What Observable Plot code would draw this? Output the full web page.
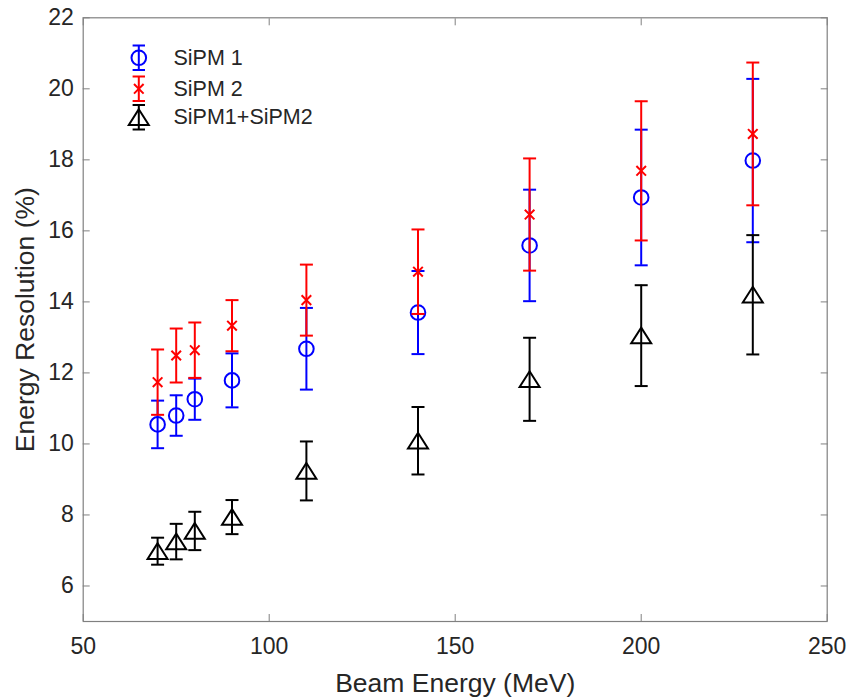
<!DOCTYPE html>
<html>
<head>
<meta charset="utf-8">
<script src="https://cdn.jsdelivr.net/npm/d3@7"></script>
<script src="https://cdn.jsdelivr.net/npm/@observablehq/plot@0.6"></script>
<style>
  body { margin: 0; background: #fff; }
  #chart svg { display: block; }
</style>
</head>
<body>
<div id="chart"></div>
<script>
// ---- Data ----
const energies = [70, 75, 80, 90, 110, 140, 170, 200, 230];

const sipm1Values = [10.55, 10.80, 11.26, 11.79, 12.68, 13.70, 15.59, 16.94, 17.98];
const sipm1Errors = [0.67, 0.57, 0.58, 0.76, 1.15, 1.17, 1.57, 1.91, 2.30];

const sipm2Values = [11.74, 12.49, 12.64, 13.33, 14.05, 14.85, 16.46, 17.69, 18.73];
const sipm2Errors = [0.92, 0.76, 0.78, 0.72, 1.00, 1.19, 1.58, 1.96, 2.01];

const sumValues = [6.98, 7.25, 7.55, 7.94, 9.24, 10.09, 11.82, 13.05, 14.20];
const sumErrors = [0.38, 0.50, 0.54, 0.48, 0.83, 0.95, 1.17, 1.42, 1.68];

const seriesNames = ["SiPM 1", "SiPM 2", "SiPM1+SiPM2"];
const seriesColors = ["#0000ff", "#ff0000", "#000000"];

const xTicks = [50, 100, 150, 200, 250];
const yTicks = [6, 8, 10, 12, 14, 16, 18, 20, 22];

const xLabel = "Beam Energy (MeV)";
const yLabel = "Energy Resolution (%)";

// ---- Build rows ----
const rows = (vals, errs) => energies.map((e, i) => ({
  energy: e, value: vals[i], lo: vals[i] - errs[i], hi: vals[i] + errs[i]
}));
const series = [
  {name: seriesNames[0], color: seriesColors[0], data: rows(sipm1Values, sipm1Errors), marker: "circle"},
  {name: seriesNames[1], color: seriesColors[1], data: rows(sipm2Values, sipm2Errors), marker: "cross"},
  {name: seriesNames[2], color: seriesColors[2], data: rows(sumValues, sumErrors), marker: "triangle"}
];

// ---- Custom symbols ----
const capSymbol = {draw(ctx) { ctx.moveTo(-6.5, 0); ctx.lineTo(6.5, 0); }};
const crossSymbol = {draw(ctx) {
  ctx.moveTo(-4.8, -4.8); ctx.lineTo(4.8, 4.8);
  ctx.moveTo(-4.8, 4.8); ctx.lineTo(4.8, -4.8);
}};
const triSymbol = {draw(ctx) {
  ctx.moveTo(0, -8); ctx.lineTo(10, 7.7); ctx.lineTo(-10, 7.7); ctx.closePath();
}};
const circleSymbol = {draw(ctx) { ctx.moveTo(7.3, 0); ctx.arc(0, 0, 7.3, 0, 2 * Math.PI); }};
const legendBarSymbol = {draw(ctx) {
  ctx.moveTo(0, -12.2); ctx.lineTo(0, 12.2);
  ctx.moveTo(-6.2, -12.2); ctx.lineTo(6.2, -12.2);
  ctx.moveTo(-6.2, 12.2); ctx.lineTo(6.2, 12.2);
}};
const markerSymbol = {circle: circleSymbol, cross: crossSymbol, triangle: triSymbol};

// ---- Marks ----
const axisColor = "#808080";
const textColor = "#262626";
const marks = [];

for (const s of series) {
  marks.push(
    Plot.ruleX(s.data, {x: "energy", y1: "lo", y2: "hi", stroke: s.color, strokeWidth: 2}),
    Plot.dot(s.data, {x: "energy", y: "hi", symbol: capSymbol, stroke: s.color, fill: "none", strokeWidth: 2}),
    Plot.dot(s.data, {x: "energy", y: "lo", symbol: capSymbol, stroke: s.color, fill: "none", strokeWidth: 2}),
    Plot.dot(s.data, {x: "energy", y: "value", symbol: markerSymbol[s.marker], stroke: s.color, fill: "none", strokeWidth: 2})
  );
}

// Legend
const legendDy = [40, 71, 99.4];
series.forEach((s, i) => {
  marks.push(
    Plot.dot([0], {frameAnchor: "top-left", dx: 55.6, dy: legendDy[i], symbol: legendBarSymbol, stroke: s.color, fill: "none", strokeWidth: 2}),
    Plot.dot([0], {frameAnchor: "top-left", dx: 55.6, dy: legendDy[i], symbol: markerSymbol[s.marker], stroke: s.color, fill: "none", strokeWidth: 2}),
    Plot.text([s.name], {frameAnchor: "top-left", dx: 90.3, dy: legendDy[i], text: d => d, textAnchor: "start", lineAnchor: "middle", fontSize: 21.5, fill: textColor})
  );
});

// Axes (inward ticks, box)
marks.push(
  Plot.frame({stroke: axisColor, strokeWidth: 1.2}),
  Plot.axisX(xTicks, {anchor: "bottom", tickSize: -7, tickPadding: 23, fontSize: 23, stroke: axisColor, fill: textColor, label: null}),
  Plot.axisX(xTicks, {anchor: "top", tickSize: -7, tickFormat: () => "", stroke: axisColor, label: null}),
  Plot.axisY(yTicks, {anchor: "left", tickSize: -7, tickPadding: 16.4, fontSize: 23, stroke: axisColor, fill: textColor, label: null}),
  Plot.axisY(yTicks, {anchor: "right", tickSize: -7, tickFormat: () => "", stroke: axisColor, label: null}),
  Plot.text([xLabel], {frameAnchor: "bottom", dy: 62, text: d => d, fontSize: 26.5, fill: textColor, textAnchor: "middle", lineAnchor: "middle"}),
  Plot.text([yLabel], {frameAnchor: "left", dx: -58, rotate: -90, text: d => d, fontSize: 26.5, fill: textColor, textAnchor: "middle", lineAnchor: "middle"})
);

const chart = Plot.plot({
  width: 852,
  height: 698,
  marginLeft: 82.7,
  marginRight: 25.3,
  marginTop: 17.3,
  marginBottom: 77,
  style: {fontFamily: "'Liberation Sans', Arial, Helvetica, sans-serif", background: "#fff", overflow: "visible"},
  x: {domain: [50, 250]},
  y: {domain: [5, 22]},
  marks
});
document.getElementById("chart").append(chart);
</script>
</body>
</html>
